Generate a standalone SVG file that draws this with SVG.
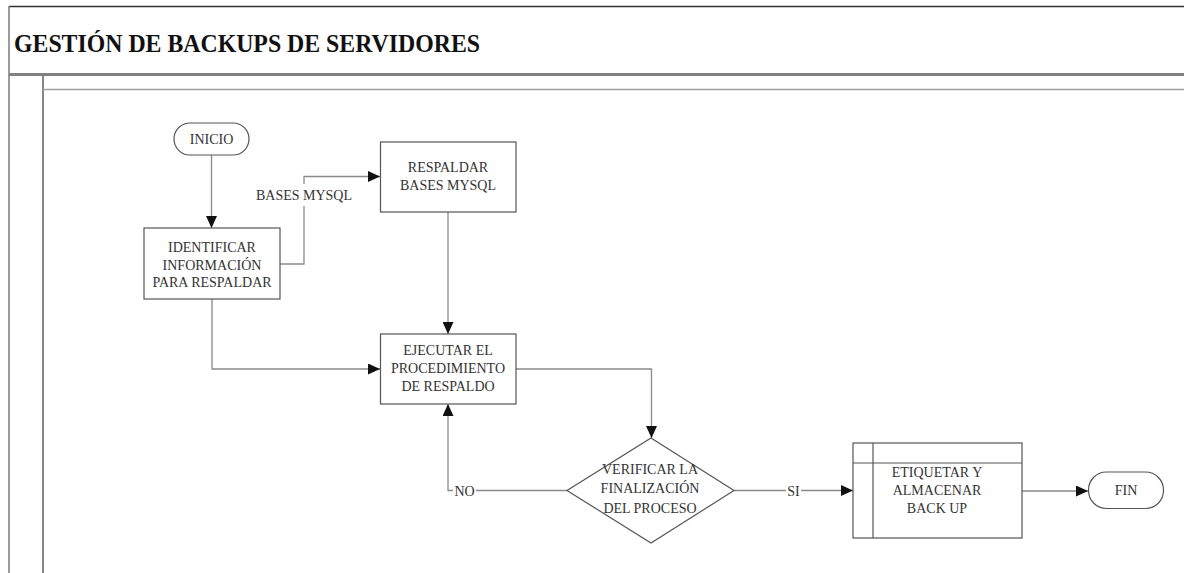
<svg xmlns="http://www.w3.org/2000/svg" width="1184" height="573" viewBox="0 0 1184 573">
  <style>
    .frame { stroke: #7a7a7a; fill: none; }
    .node { fill: #ffffff; stroke: #555555; stroke-width: 1.2; }
    .lbl { font-family: "Liberation Serif", "Times New Roman", serif; font-size: 14px; fill: #333333; text-anchor: middle; }
    .title { font-family: "Liberation Serif", "Times New Roman", serif; font-size: 26px; font-weight: bold; fill: #111111; }
    .conn { stroke: #8a8a8a; stroke-width: 1.3; fill: none; }
    .arrow { stroke: #8a8a8a; stroke-width: 1.3; fill: none; marker-end: url(#head); }
    .mask { fill: #ffffff; stroke: none; }
  </style>
  <defs>
    <marker id="head" viewBox="0 0 12 11" refX="12" refY="5.5" markerWidth="12" markerHeight="11" markerUnits="userSpaceOnUse" orient="auto">
      <path d="M0,0 L12,5.5 L0,11 Z" fill="#111111"/>
    </marker>
  </defs>

  <rect width="1184" height="573" fill="#ffffff"/>

  <!-- pool frame -->
  <g id="frame">
    <line x1="9" y1="6.5" x2="1184" y2="6.5" stroke="#333333" stroke-width="1.5"/>
    <line x1="9" y1="6" x2="9" y2="573" class="frame" stroke-width="1.5"/>
    <line x1="9" y1="74.5" x2="1184" y2="74.5" stroke="#808080" stroke-width="3"/>
    <line x1="43" y1="76" x2="43" y2="573" class="frame" stroke-width="1.8"/>
    <line x1="43" y1="89.5" x2="1184" y2="89.5" stroke="#a0a0a0" stroke-width="1.5"/>
    <text x="14" y="51.5" class="title" textLength="466" lengthAdjust="spacingAndGlyphs">GESTIÓN DE BACKUPS DE SERVIDORES</text>
  </g>

  <!-- connectors -->
  <g id="connectors">
    <path class="arrow" d="M211.5,155 V228"/>
    <path class="arrow" d="M280,264 H304 V176.5 H380"/>
    <path class="arrow" d="M212,299 V369 H380"/>
    <path class="arrow" d="M448,212 V334"/>
    <path class="arrow" d="M516,369 H651.5 V438"/>
    <path class="arrow" d="M567,490.5 H448 V404"/>
    <path class="arrow" d="M734,490.5 H853"/>
    <path class="arrow" d="M1022,491 H1088"/>
    <rect class="mask" x="253" y="184" width="102" height="22"/>
    <text x="304" y="200" class="lbl">BASES MYSQL</text>
    <rect class="mask" x="453" y="482" width="23" height="16"/>
    <text x="464.5" y="495.5" class="lbl">NO</text>
    <rect class="mask" x="786" y="482" width="15" height="16"/>
    <text x="793.5" y="495.5" class="lbl">SI</text>
  </g>

  <g id="inicio">
    <rect class="node" x="174" y="123" width="75" height="32" rx="16" ry="16"/>
    <text x="211.5" y="144" class="lbl">INICIO</text>
  </g>

  <g id="identificar">
    <rect class="node" x="144" y="228" width="136" height="71"/>
    <text x="212" y="252" class="lbl">IDENTIFICAR</text>
    <text x="212" y="269.5" class="lbl">INFORMACIÓN</text>
    <text x="212" y="287" class="lbl">PARA RESPALDAR</text>
  </g>

  <g id="respaldar">
    <rect class="node" x="380.5" y="142" width="135.5" height="70"/>
    <text x="448" y="172" class="lbl">RESPALDAR</text>
    <text x="448" y="189.5" class="lbl">BASES MYSQL</text>
  </g>

  <g id="ejecutar">
    <rect class="node" x="380.5" y="334" width="135.5" height="70"/>
    <text x="448" y="355" class="lbl">EJECUTAR EL</text>
    <text x="448" y="373" class="lbl">PROCEDIMIENTO</text>
    <text x="448" y="390.5" class="lbl">DE RESPALDO</text>
  </g>

  <g id="verificar">
    <polygon class="node" points="651,438 734,490.5 651,543 567,490.5"/>
    <text x="650" y="474" class="lbl">VERIFICAR LA</text>
    <text x="650" y="493" class="lbl">FINALIZACIÓN</text>
    <text x="650" y="513" class="lbl">DEL PROCESO</text>
  </g>

  <g id="etiquetar">
    <rect class="node" x="853" y="443" width="169" height="95"/>
    <line x1="873" y1="443" x2="873" y2="538" stroke="#555555" stroke-width="1.2"/>
    <line x1="853" y1="463" x2="1022" y2="463" stroke="#555555" stroke-width="1.2"/>
    <text x="937" y="477" class="lbl">ETIQUETAR Y</text>
    <text x="937" y="495" class="lbl">ALMACENAR</text>
    <text x="937" y="513" class="lbl">BACK UP</text>
  </g>

  <g id="fin">
    <rect class="node" x="1088.5" y="472" width="75" height="36.5" rx="18" ry="18"/>
    <text x="1126" y="495" class="lbl">FIN</text>
  </g>
</svg>
